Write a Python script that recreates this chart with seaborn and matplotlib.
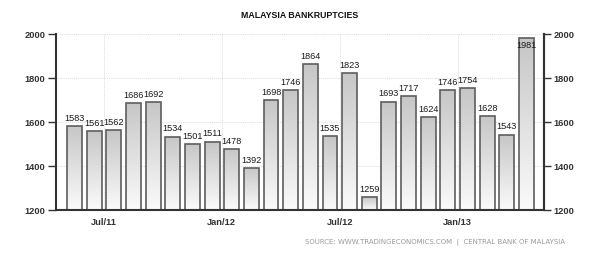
import numpy as np
import pandas as pd
import matplotlib
matplotlib.use("Agg")
import matplotlib.pyplot as plt
import seaborn as sns

months = ["May/11", "Jun/11", "Jul/11", "Aug/11", "Sep/11", "Oct/11", "Nov/11", "Dec/11",
          "Jan/12", "Feb/12", "Mar/12", "Apr/12", "May/12", "Jun/12", "Jul/12", "Aug/12",
          "Sep/12", "Oct/12", "Nov/12", "Dec/12", "Jan/13", "Feb/13", "Mar/13", "Apr/13"]
bankruptcies = [1583, 1561, 1562, 1686, 1692, 1534, 1501, 1511, 1478, 1392, 1698, 1746,
                1864, 1535, 1823, 1259, 1693, 1717, 1624, 1746, 1754, 1628, 1543, 1981]
tick_labels = ["Jul/11", "Jan/12", "Jul/12", "Jan/13"]
y_ticks = [1200, 1400, 1600, 1800, 2000]

df = pd.DataFrame({"month": months, "value": bankruptcies})

sns.set_style("white")
plt.rcParams["font.family"] = ["Liberation Sans", "DejaVu Sans"]

fig = plt.figure(figsize=(6.01, 2.54), dpi=100)
ax = fig.add_axes([56 / 601, 1 - 210 / 254, (544 - 56) / 601, (210 - 34) / 254])

sns.barplot(data=df, x="month", y="value", ax=ax, color="#dddddd",
            edgecolor="#5e5e5e", linewidth=1.2, width=0.76, saturation=1)

ymin, ymax = 1200, 2000
ax.set_ylim(ymin, ymax)
ax.set_xlim(-0.94, 23.89)

# gradient fill
grad = np.linspace(0, 1, 256).reshape(-1, 1)
cmap = matplotlib.colors.LinearSegmentedColormap.from_list("g", ["#fbfbfb", "#c6c6c6"])
for p in list(ax.patches):
    x0, y0 = p.get_x(), max(p.get_y(), ymin)
    w, h = p.get_width(), p.get_y() + p.get_height()
    im = ax.imshow(grad, extent=[x0, x0 + w, y0, h], origin="lower", aspect="auto",
                   cmap=cmap, zorder=p.get_zorder() + 0.1)
    im.set_clip_path(p)
    p.set_facecolor("none")
    p.set_zorder(p.get_zorder() + 0.2)
ax.set_xlim(-0.94, 23.89)
ax.set_ylim(ymin, ymax)

# value labels
for i, v in enumerate(bankruptcies):
    if v + 45 > ymax:
        ax.text(i, v - 12, str(v), ha="center", va="top", fontsize=6.6, color="#1a1a1a", zorder=5)
    else:
        ax.text(i, v + 14, str(v), ha="center", va="bottom", fontsize=6.6, color="#1a1a1a", zorder=5)

# grids
for y in y_ticks[1:]:
    ax.axhline(y, color="#dcdcdc", lw=0.7, ls=(0, (1, 1)), zorder=0)
tick_pos = [months.index(m) - 0.5 for m in tick_labels]
for x in tick_pos:
    ax.axvline(x, color="#dcdcdc", lw=0.7, ls=(0, (1, 1)), zorder=0)

ax.set_xticks(tick_pos)
ax.set_xticklabels(tick_labels)
ax.set_yticks(y_ticks)
ax.set_xlabel("")
ax.set_ylabel("")

for lab in ax.get_xticklabels() + ax.get_yticklabels():
    lab.set_fontsize(6.7)
    lab.set_fontweight("bold")
    lab.set_color("#333333")
ax.tick_params(axis="both", direction="out", length=6, width=1, color="#333333", pad=1.5)
ax.tick_params(axis="x", length=4, pad=2)

for s in ["left", "right", "bottom"]:
    ax.spines[s].set_color("#333333")
    ax.spines[s].set_linewidth(1.5)
ax.spines["top"].set_visible(False)

ax2 = ax.twinx()
ax2.set_ylim(ymin, ymax)
ax2.set_yticks(y_ticks)
for lab in ax2.get_yticklabels():
    lab.set_fontsize(6.7)
    lab.set_fontweight("bold")
    lab.set_color("#333333")
ax2.tick_params(axis="y", direction="out", length=5, width=1, color="#333333", pad=2)
for s in ["left", "top", "bottom"]:
    ax2.spines[s].set_visible(False)
ax2.spines["right"].set_color("#333333")
ax2.spines["right"].set_linewidth(1.5)

fig.text(300 / 601, 1 - 15 / 254, "MALAYSIA BANKRUPTCIES", ha="center", va="center",
         fontsize=6.3, fontweight="bold", color="#111111")
fig.text(565 / 601, 1 - 242 / 254, "SOURCE: WWW.TRADINGECONOMICS.COM  |  CENTRAL BANK OF MALAYSIA",
         ha="right", va="center", fontsize=5.0, color="#9a9a9a", family="DejaVu Sans")

fig.savefig("out.png", dpi=100)
